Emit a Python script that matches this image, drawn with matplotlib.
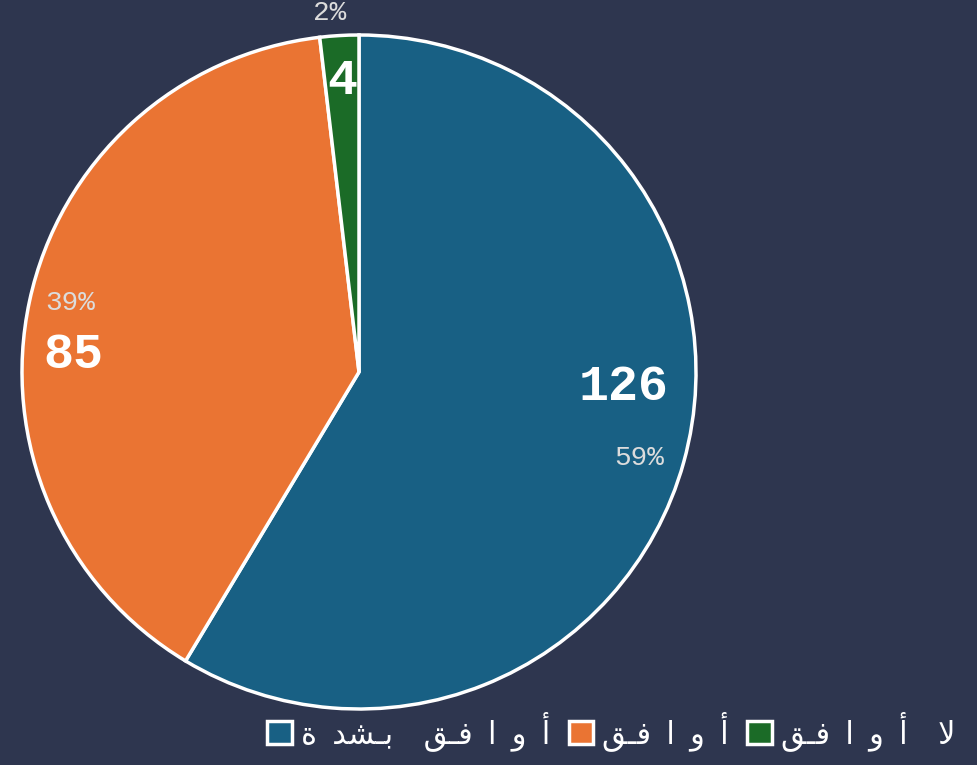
import numpy as np
import matplotlib.pyplot as plt
from matplotlib.patches import Patch

# Arabic labels in visual (left-to-right) order using presentation forms,
# since matplotlib does no Arabic shaping; letters spaced as in the reference
sp = "\u2002"
labels = ["\uFE93" + sp + "\uFEAA\uFEB8\u0640\uFE91" + sp + sp + "\uFED6\u0640\uFED3" + sp + "\uFE8D" + sp + "\uFEED" + sp + "\uFE83",  # أوافق بشدة
          "\uFED6\u0640\uFED3" + sp + "\uFE8D" + sp + "\uFEED" + sp + "\uFE83",   # أوافق
          "\uFED6\u0640\uFED3" + sp + "\uFE8D" + sp + "\uFEED" + sp + "\uFE83" + sp + sp + "\uFEFB"]  # لا أوافق
counts = [126, 85, 4]
pct_labels = ["59%", "39%", "2%"]
colors = ["#186084", "#ea7433", "#1b6b27"]

bg = "#2e364f"
mono = ["Liberation Mono", "DejaVu Sans"]

fig = plt.figure(figsize=(9.77, 7.65), dpi=100, facecolor=bg)
W, H = 977, 765
cx, cy, R = 359, 765 - 372, 337
lim = 1.06
ax = fig.add_axes([(cx - R * lim) / W, (cy - R * lim) / H, 2 * R * lim / W, 2 * R * lim / H])
ax.set_facecolor(bg)

wedges, _ = ax.pie(counts, colors=colors, startangle=90, counterclock=False,
                   wedgeprops=dict(edgecolor="white", linewidth=2.5))
ax.set_xlim(-lim, lim)
ax.set_ylim(-lim, lim)
ax.set_aspect("equal")
ax.axis("off")

# label layout per wedge: percent at (radius, angle shift), count offset from percent
pct_r = [0.87, 0.88, 1.07]
pct_dth = [-1.5, -1.3, 1.3]
cnt_off = [(-0.047, 0.21), (0.008, -0.155), None]
for i, w in enumerate(wedges):
    mid = (w.theta1 + w.theta2) / 2
    th = np.deg2rad(mid + pct_dth[i])
    px, py = pct_r[i] * np.cos(th), pct_r[i] * np.sin(th)
    ax.text(px, py, pct_labels[i], ha="center", va="center", color="#dcdcdc",
            fontsize=20, family=mono, clip_on=False)
    if cnt_off[i] is None:
        t0 = np.deg2rad(mid)
        qx, qy = 0.865 * np.cos(t0), 0.865 * np.sin(t0)
    else:
        qx, qy = px + cnt_off[i][0], py + cnt_off[i][1]
    ax.text(qx, qy, str(counts[i]), ha="center", va="center", color="white",
            fontsize=36, family=mono, fontweight="bold")

handles = [Patch(facecolor=c, edgecolor="white", linewidth=2.5) for c in colors]
leg = fig.legend(handles, labels, loc="lower right", bbox_to_anchor=(1.006, -0.018),
                 ncol=3, frameon=False, prop={"family": ["DejaVu Sans"], "size": 22},
                 handlelength=0.8, handleheight=0.8, handletextpad=0.3, columnspacing=0.6,
                 labelcolor="white")

fig.savefig("out.png", dpi=100, facecolor=bg)
